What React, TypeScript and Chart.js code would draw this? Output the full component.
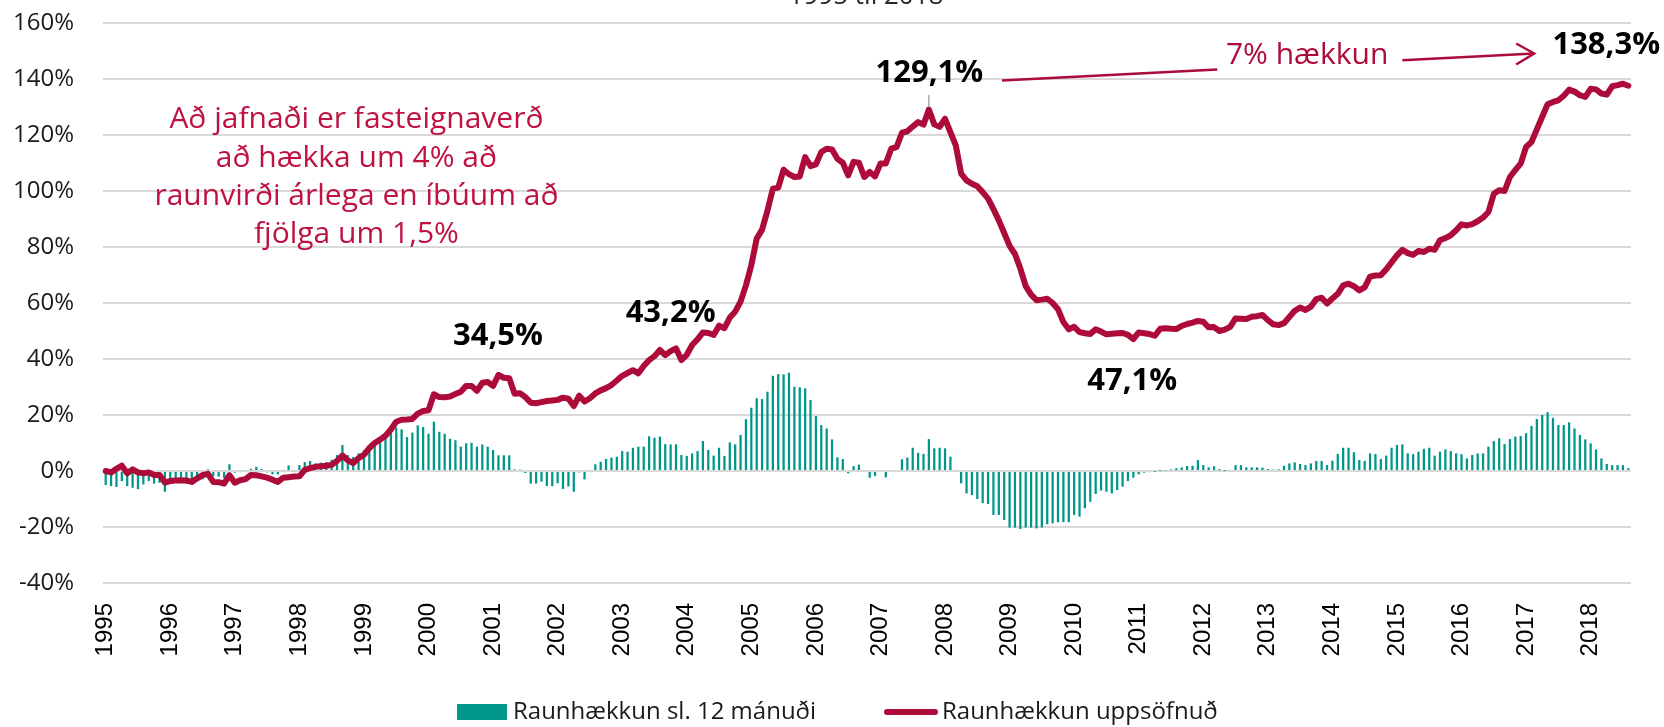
import React, { useEffect, useRef } from 'react';
import Chart from 'chart.js/auto';

// ---- Data ----
const YEARS = [1995, 1996, 1997, 1998, 1999, 2000, 2001, 2002, 2003, 2004, 2005, 2006,
  2007, 2008, 2009, 2010, 2011, 2012, 2013, 2014, 2015, 2016, 2017, 2018];
const MONTHS_IN_LAST_YEAR = 8;

// Raunhækkun uppsöfnuð (%), monthly Jan 1995 - Aug 2018
const CUMULATIVE = [
  0, -0.5, 0.8, 1.9, -0.8, 0.6, -0.5, -0.8, -0.5, -1.4, -1.4, -4.1,
  -3.6, -3.4, -3.3, -3.4, -3.9, -2.6, -1.5, -1.0, -3.9, -4.0, -4.5, -1.5,
  -4.2, -3.3, -2.9, -1.4, -1.5, -1.9, -2.4, -3.1, -3.9, -2.4, -2.2, -2.0,
  -1.9, 0.4, 1.0, 1.5, 1.7, 1.9, 2.2, 3.6, 5.5, 3.8, 2.8, 4.6,
  5.8, 8.2, 10.0, 11.2, 12.6, 14.8, 17.6, 18.3, 18.4, 18.6, 20.5, 21.4,
  21.7, 27.4, 26.4, 26.3, 26.6, 27.5, 28.3, 30.4, 30.4, 28.6, 31.5, 31.8,
  30.4, 34.3, 33.3, 33.1, 27.6, 27.8, 26.4, 24.4, 24.2, 24.6, 25.0, 25.2,
  25.4, 26.2, 25.8, 23.2, 26.9, 24.8, 26.0, 27.7, 28.8, 29.6, 30.7, 32.3,
  34.0, 35.0, 36.0, 34.9, 37.5, 39.6, 41.0, 43.2, 41.4, 42.8, 43.8, 39.6,
  41.5, 45.0, 47.0, 49.5, 49.3, 48.6, 51.9, 51.0, 54.8, 56.9, 60.5, 66.3,
  73.5, 83.0, 86.2, 93.0, 100.8, 101.2, 107.6, 106.0, 105.0, 105.2, 112.1, 108.9,
  109.5, 113.9, 115.1, 114.8, 111.5, 110.1, 105.6, 110.4, 110.1, 105.0, 106.8, 105.2,
  109.8, 109.8, 115.1, 115.7, 120.8, 121.3, 123.0, 124.6, 123.7, 129.1, 123.8, 122.9,
  125.8, 121.0, 116.3, 106.2, 103.8, 102.6, 101.7, 99.6, 97.3, 93.5, 89.5, 85.0,
  80.4, 77.5, 72.3, 66.0, 63.0, 61.0, 61.2, 61.5, 60.0, 57.8, 53.2, 50.6,
  51.5, 49.6, 49.2, 48.9, 50.6, 49.8, 48.8, 49.0, 49.2, 49.3, 48.6, 47.1,
  49.5, 49.2, 48.9, 48.3, 50.8, 51.0, 50.8, 50.7, 51.8, 52.5, 53.0, 53.6,
  53.3, 51.3, 51.4, 50.0, 50.5, 51.5, 54.5, 54.4, 54.3, 55.1, 55.3, 55.7,
  53.9, 52.4, 52.1, 52.8, 55.0, 57.2, 58.4, 57.5, 58.7, 61.4, 61.9, 59.8,
  61.6, 63.3, 66.3, 66.9, 66.0, 64.5, 65.6, 69.4, 69.8, 69.9, 72.0, 74.5,
  77.0, 79.0, 77.8, 77.2, 78.6, 78.2, 79.4, 79.0, 82.4, 83.2, 84.2, 86.0,
  88.1, 87.7, 88.2, 89.2, 90.5, 92.5, 99.0, 100.3, 100.0, 105.0, 107.5, 109.8,
  115.7, 117.5, 122.0, 126.5, 131.0, 131.8, 132.4, 134.0, 136.2, 135.5, 134.2, 133.6,
  136.5, 136.3, 134.8, 134.4, 137.4, 137.8, 138.3, 137.6,
];

// Raunhækkun sl. 12 mánuði (%)
const TWELVE_MONTH = [
  -5.0, -5.4, -5.7, -3.6, -5.4, -6.0, -6.5, -4.8, -3.6, -4.5, -4.2, -7.4,
  -4.2, -3.6, -3.6, -4.5, -3.6, -3.6, -3.0, 0.6, -1.8, -2.0, -2.4, 2.4,
  -0.6, -0.4, 0.3, 0.8, 1.5, 0.7, -0.5, -1.2, -1.2, 0.3, 2.0, -0.3,
  2.1, 3.2, 3.6, 2.7, 3.0, 3.2, 4.0, 5.7, 9.3, 5.7, 5.0, 6.3,
  7.4, 8.3, 10.0, 11.9, 13.0, 14.9, 15.5, 14.9, 12.1, 13.7, 16.3, 15.7,
  13.3, 17.6, 14.0, 13.3, 11.5, 11.0, 8.7, 9.9, 10.1, 8.7, 9.5, 8.7,
  7.5, 5.6, 5.6, 5.6, 0.6, 0.5, -0.7, -4.5, -4.5, -3.8, -5.4, -5.4,
  -4.4, -6.4, -5.5, -7.4, -0.5, -3.0, -0.3, 2.4, 3.3, 4.3, 4.8, 5.1,
  7.1, 6.9, 8.3, 8.7, 8.7, 12.4, 11.9, 12.3, 9.6, 9.5, 9.5, 5.7,
  5.4, 6.3, 7.1, 10.7, 7.5, 5.5, 8.3, 5.4, 10.2, 9.5, 12.9, 18.5,
  22.6, 26.0, 25.7, 28.3, 34.0, 34.6, 34.5, 35.1, 30.1, 29.9, 29.5, 25.4,
  19.6, 16.4, 15.2, 11.3, 4.9, 4.3, -0.8, 1.7, 2.3, 0.0, -2.4, -1.8,
  0.0, -2.3, 0.0, 0.0, 4.2, 4.8, 8.3, 6.5, 6.1, 11.4, 8.1, 8.3,
  8.1, 5.1, 0.4, -4.4, -8.0, -8.6, -10.0, -11.5, -11.8, -15.7, -15.7, -17.5,
  -20.2, -20.2, -20.7, -20.2, -20.2, -20.5, -20.2, -19.0, -18.7, -18.3, -18.3, -18.3,
  -15.7, -16.3, -13.3, -11.0, -8.2, -7.0, -7.4, -8.0, -6.8, -5.6, -3.6, -2.4,
  -1.2, -0.6, -0.4, -0.1, 0.1, 0.2, 0.6, 1.0, 1.3, 1.8, 1.9, 3.9,
  2.1, 1.3, 1.7, 0.7, 0.1, 0.4, 2.1, 2.1, 1.3, 1.3, 1.3, 1.2,
  0.7, 0.5, 0.6, 1.9, 2.7, 3.1, 2.5, 2.1, 2.7, 3.6, 3.6, 2.1,
  3.7, 6.1, 8.3, 8.3, 6.7, 3.9, 3.6, 6.3, 6.1, 4.3, 5.5, 8.3,
  9.3, 9.5, 6.3, 6.0, 6.9, 7.9, 8.3, 5.5, 6.9, 7.7, 7.1, 6.3,
  6.0, 4.5, 5.7, 6.3, 6.3, 8.7, 10.7, 11.7, 9.6, 11.4, 12.3, 12.5,
  13.5, 16.1, 18.6, 20.0, 21.0, 19.0, 16.4, 16.4, 17.4, 15.2, 12.9, 11.3,
  9.9, 7.7, 4.5, 2.5, 2.1, 2.1, 2.1, 1.0,
];

const Y_MIN = -40;
const Y_MAX = 160;
const Y_STEP = 20;

const SERIES_NAMES = ['Raunhækkun sl. 12 mánuði', 'Raunhækkun uppsöfnuð'];
const TITLE = '1995 til 2018';

// value callouts: text, month index, y value (position of label)
const CALLOUT_TEXTS = ['34,5%', '43,2%', '129,1%', '47,1%', '138,3%'];
const CALLOUT_INDEX = [72.9, 105, 153.1, 190.8, 278.9];
const CALLOUT_VALUE = [48.1, 56.3, 142, 32, 152];

const NOTE_LINES = ['Að jafnaði er fasteignaverð', 'að hækka um 4% að', 'raunvirði árlega en íbúum að', 'fjölga um 1,5%'];
const NOTE_INDEX = 46.6;
const NOTE_BASE_VALUES = [122.4, 108.6, 95.0, 81.4];

const ARROW_TEXT = '7% hækkun';
const ARROW_TEXT_POS = [223.3, 148.3];
const ARROW_SEG1 = [[166.6, 139.5], [206.6, 143.4]];
const ARROW_SEG2 = [[241, 146.7], [265.5, 149.1]];

const RED = '#AD0B3A';
const RED_TEXT = '#BF1241';
const TEAL = '#00968A';

// categories
const LABELS: string[] = [];
YEARS.forEach((y, yi) => {
  const n = yi === YEARS.length - 1 ? MONTHS_IN_LAST_YEAR : 12;
  for (let m = 0; m < n; m++) LABELS.push(m === 0 ? String(y) : '');
});

const W = 1664;
const H = 727;

const decorPlugin = {
  id: 'decor',
  afterDatasetsDraw(chart: any) {
    const { ctx } = chart;
    const xs = chart.scales.x;
    const ys = chart.scales.y;
    const px = (i: number) => xs.getPixelForValue(i);
    const py = (v: number) => ys.getPixelForValue(v);
    ctx.save();

    // leader line for the peak
    ctx.strokeStyle = '#A6A6A6';
    ctx.lineWidth = 1.5;
    ctx.beginPath();
    ctx.moveTo(px(153), py(134.3));
    ctx.lineTo(px(153), py(130));
    ctx.stroke();

    // callouts
    ctx.fillStyle = '#000000';
    ctx.font = 'bold 31px "Open Sans", sans-serif';
    ctx.textAlign = 'center';
    ctx.textBaseline = 'middle';
    CALLOUT_TEXTS.forEach((t, k) => {
      ctx.fillText(t, px(CALLOUT_INDEX[k]), py(CALLOUT_VALUE[k]));
    });

    // note text
    ctx.fillStyle = RED_TEXT;
    ctx.font = '30px "Open Sans", sans-serif';
    ctx.textBaseline = 'alphabetic';
    NOTE_LINES.forEach((t, k) => {
      ctx.fillText(t, px(NOTE_INDEX), py(NOTE_BASE_VALUES[k]));
    });

    // arrow text
    ctx.font = '30px "Open Sans", sans-serif';
    ctx.textBaseline = 'middle';
    ctx.fillStyle = RED;
    ctx.fillText(ARROW_TEXT, px(ARROW_TEXT_POS[0]), py(ARROW_TEXT_POS[1]));

    ctx.strokeStyle = RED;
    ctx.lineWidth = 2.5;
    ctx.lineCap = 'butt';
    [ARROW_SEG1, ARROW_SEG2].forEach((seg) => {
      ctx.beginPath();
      ctx.moveTo(px(seg[0][0]), py(seg[0][1]));
      ctx.lineTo(px(seg[1][0]), py(seg[1][1]));
      ctx.stroke();
    });
    const ex = px(ARROW_SEG2[1][0]);
    const ey = py(ARROW_SEG2[1][1]);
    ctx.beginPath();
    ctx.moveTo(ex - 18, ey - 10);
    ctx.lineTo(ex, ey);
    ctx.lineTo(ex - 18, ey + 11);
    ctx.stroke();

    ctx.restore();
  },
  afterDraw(chart: any) {
    const { ctx } = chart;
    ctx.save();
    // title (cut off at top)
    ctx.fillStyle = '#262626';
    ctx.font = '26px "Open Sans", sans-serif';
    ctx.textAlign = 'center';
    ctx.textBaseline = 'alphabetic';
    ctx.fillText(TITLE, 866, 4);

    // legend
    ctx.font = '24px "Open Sans", sans-serif';
    ctx.textAlign = 'left';
    ctx.textBaseline = 'middle';
    const ly = 712;
    ctx.fillStyle = TEAL;
    ctx.fillRect(457, ly - 8, 50, 16);
    ctx.fillStyle = '#1a1a1a';
    ctx.fillText(SERIES_NAMES[0], 513, ly);
    ctx.strokeStyle = RED;
    ctx.lineWidth = 6;
    ctx.lineCap = 'round';
    ctx.beginPath();
    ctx.moveTo(887, ly);
    ctx.lineTo(935, ly);
    ctx.stroke();
    ctx.fillText(SERIES_NAMES[1], 942, ly);
    ctx.restore();
  },
};

export default function App() {
  const ref = useRef<HTMLCanvasElement | null>(null);

  useEffect(() => {
    document.body.style.margin = '0';
    const canvas = ref.current;
    if (!canvas) return;
    const chart = new Chart(canvas, {
      type: 'bar',
      data: {
        labels: LABELS,
        datasets: [
          {
            type: 'line',
            label: SERIES_NAMES[1],
            data: CUMULATIVE,
            borderColor: RED,
            backgroundColor: RED,
            borderWidth: 6,
            pointRadius: 0,
            tension: 0,
            borderJoinStyle: 'round',
            borderCapStyle: 'round',
            order: 0,
          } as any,
          {
            type: 'bar',
            label: SERIES_NAMES[0],
            data: TWELVE_MONTH,
            backgroundColor: TEAL,
            barPercentage: 0.42,
            categoryPercentage: 1,
            order: 1,
          },
        ],
      },
      options: {
        responsive: false,
        animation: false,
        events: [],
        layout: { padding: { left: 0, right: 33, top: 23, bottom: 0 } },
        plugins: {
          legend: { display: false },
          tooltip: { enabled: false },
          title: { display: false },
        },
        scales: {
          x: {
            grid: { display: false, drawTicks: false },
            border: { display: false },
            ticks: {
              autoSkip: false,
              maxRotation: 90,
              minRotation: 90,
              padding: 20,
              color: '#000000',
              font: { family: '"Liberation Sans", Arial, sans-serif', size: 24 },
              callback: (_v: any, i: number) => LABELS[i],
            },
            afterFit: (s: any) => {
              s.height = 144;
              s.paddingLeft = 0;
              s.paddingRight = 0;
            },
          },
          y: {
            min: Y_MIN,
            max: Y_MAX,
            grid: { color: '#D9D9D9', lineWidth: 2, drawTicks: false },
            border: { display: false },
            ticks: {
              stepSize: Y_STEP,
              padding: 29,
              color: '#1a1a1a',
              font: { family: '"Open Sans", sans-serif', size: 24 },
              callback: (v: any) => `${v}%`,
            },
            afterFit: (s: any) => {
              s.width = 103;
              s.paddingTop = 0;
              s.paddingBottom = 0;
            },
          },
        },
      },
      plugins: [decorPlugin],
    });
    return () => chart.destroy();
  }, []);

  return (
    <div style={{ width: W, height: H }}>
      <canvas ref={ref} width={W} height={H} style={{ display: 'block' }} />
    </div>
  );
}
